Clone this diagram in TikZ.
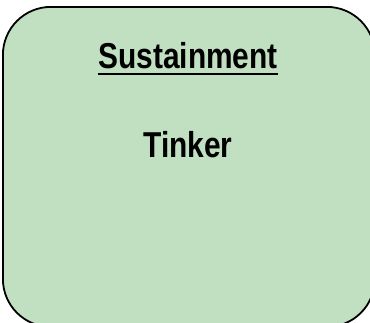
\documentclass[tikz,border=0pt]{standalone}
\usepackage{fontspec}
\setmainfont{Liberation Sans}[FakeStretch=0.83]
\usetikzlibrary{positioning}
\definecolor{panelgreen}{RGB}{193,223,193}

\begin{document}
\begin{tikzpicture}[x=1pt,y=1pt,semithick]
  \tikzstyle{panel}=[draw=black,line width=1.8pt,fill=panelgreen,rounded corners=48pt,minimum width=372pt,minimum height=320pt,anchor=north west,inner sep=0pt]
  \tikzstyle{caption}=[font=\bfseries\fontsize{36}{40}\selectfont,inner sep=0pt,anchor=base]
  \useasboundingbox (0,0) rectangle (370,-322);

  \node[panel]   (box)   at (2,-6) {};
  \node[caption] (title) at (188,-68) {Sustainment};
  \node[caption] (site)  at ([yshift=-89pt]title.base) {Tinker};

  \draw[line width=2.4pt] ([yshift=-6pt]title.base west) -- ([yshift=-6pt]title.base east);
\end{tikzpicture}
\end{document}
